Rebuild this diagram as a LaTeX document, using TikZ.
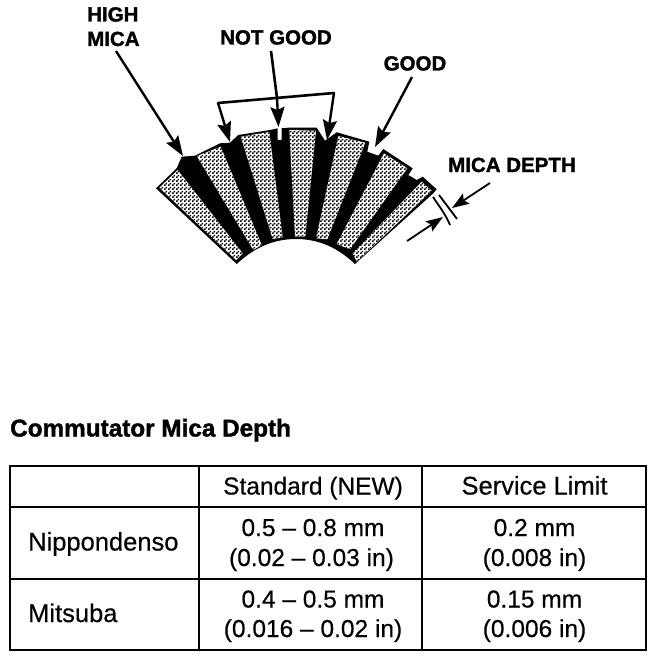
\documentclass[tikz,border=0pt]{standalone}
\usepackage{fontspec}
\setmainfont{Liberation Sans}
\newfontfamily\calloutfont{Liberation Sans Bold}[FakeBold=1.5]
\newfontfamily\cellfont{Liberation Sans}[FakeBold=0.4]
\usetikzlibrary{arrows.meta, patterns}
\pgfdeclarepatternformonly{dither}{\pgfqpoint{0pt}{0pt}}{\pgfqpoint{4pt}{4pt}}{\pgfqpoint{4pt}{4pt}}{
  \pgfpathrectangle{\pgfqpoint{0pt}{0pt}}{\pgfqpoint{2pt}{2pt}}
  \pgfpathrectangle{\pgfqpoint{2pt}{2pt}}{\pgfqpoint{2pt}{2pt}}
  \pgfusepath{fill}}
\tikzset{
  callout/.style={font=\calloutfont\fontsize{20.5}{24}\selectfont, inner sep=0pt, anchor=base},
  cell/.style={font=\cellfont\fontsize{24.5}{28}\selectfont, inner sep=0pt, anchor=base},
  bar/.style={pattern=dither, pattern color=black},
  pointer/.style={line width=2.4pt, -{Stealth[length=20pt,width=14pt,inset=3pt]}},
  smallpointer/.style={line width=1.8pt, -{Stealth[length=17pt,width=12pt,inset=3pt]}},
  tick/.style={line width=1.8pt},
  rule/.style={line width=2.2pt}
}
\begin{document}
\begin{tikzpicture}[x=1pt,y=-1pt]
\useasboundingbox (0,0) rectangle (672,658);

% Commutator body
\fill (236.7,264) -- (156,188.3) -- (176.7,168.3) -- (181.7,156.7) -- (195,155.7) -- (220,143.3)
  -- (230,142.7) -- (238.3,135) -- (270,130) -- (277.7,128.3) -- (277.7,140) -- (281.7,140)
  -- (281.7,128.3) -- (288.3,127.7) -- (316.7,127.7) -- (325,140.7) -- (336.7,132.3)
  -- (369.3,141.7) -- (367.3,151.7) -- (378.3,155.7) -- (383.3,149) -- (412.7,168.3)
  -- (408.3,175) -- (416.7,180) -- (422.7,176.7) -- (436.7,189.3) -- (433.3,193.3) -- (355,264)
  .. controls (335,245) and (315,239) .. (296,239)
  .. controls (277,239) and (257,245) .. (236.7,264) -- cycle;

% Segments
\fill[white] (159.3,187.7) -- (177.7,170) -- (242.7,253.3) -- (236,260) -- cycle;
\fill[white] (196.7,156) -- (220.7,146.7) -- (261.7,245) -- (253.3,250) -- cycle;
\fill[white] (240.7,136.7) -- (269.3,132) -- (282.7,237.3) -- (272.7,239) -- cycle;
\fill[white] (289.3,130) -- (316,130.7) -- (305.3,236.7) -- (295,236.7) -- cycle;
\fill[white] (338.3,136) -- (365.3,142.7) -- (327.3,239.3) -- (316,238.3) -- cycle;
\fill[white] (384,153.3) -- (407.3,168.3) -- (350,249.3) -- (336.7,244) -- cycle;
\fill[white] (421.7,181.7) -- (431.7,190.7) -- (356.7,261.7) -- (352.7,253.3) -- cycle;
\fill[bar] (159.3,187.7) -- (177.7,170) -- (242.7,253.3) -- (236,260) -- cycle;
\fill[bar] (196.7,156) -- (220.7,146.7) -- (261.7,245) -- (253.3,250) -- cycle;
\fill[bar] (240.7,136.7) -- (269.3,132) -- (282.7,237.3) -- (272.7,239) -- cycle;
\fill[bar] (289.3,130) -- (316,130.7) -- (305.3,236.7) -- (295,236.7) -- cycle;
\fill[bar] (338.3,136) -- (365.3,142.7) -- (327.3,239.3) -- (316,238.3) -- cycle;
\fill[bar] (384,153.3) -- (407.3,168.3) -- (350,249.3) -- (336.7,244) -- cycle;
\fill[bar] (421.7,181.7) -- (431.7,190.7) -- (356.7,261.7) -- (352.7,253.3) -- cycle;

% Callouts
\node[callout, anchor=base west] (high) at (87,21.5) {HIGH};
\node[callout, anchor=base west] (mica) at (87,46) {MICA};
\node[callout] (notgood) at (276,44.5) {NOT GOOD};
\node[callout] (good) at (415,70.5) {GOOD};
\node[callout] (micadepth) at (512,172) {MICA DEPTH};

\coordinate (hightip) at (183,156);
\coordinate (bracketl) at (218,103);
\coordinate (bracketr) at (334,93);
\coordinate (bracketm) at (277,98);
\coordinate (notl) at (230,142);
\coordinate (notm) at (278.5,127);
\coordinate (notr) at (327,140);
\coordinate (goodtip) at (375,147);
\coordinate (depthtop) at (452,208);
\coordinate (depthtail) at (490,183);
\coordinate (depthlow) at (443,217);
\coordinate (lowtail) at (407,241);

\draw[pointer] (116,51) -- (hightip);
\draw[line width=2.6pt] (271,51) -- (bracketm);
\draw[line width=2.6pt, line cap=round] (bracketl) -- (bracketr);
\draw[pointer] (bracketl) -- (notl);
\draw[pointer] (bracketm) -- (notm);
\draw[pointer] (bracketr) -- (notr);
\draw[pointer] (412,77) -- (goodtip);

% Depth marks
\draw[tick] (439,195) -- (457,219);
\draw[tick] (433,197) .. controls (439,206) and (446,215) .. (450,225);
\draw[smallpointer] (depthtail) -- (depthtop);
\draw[smallpointer] (lowtail) -- (depthlow);

% Table
\node[font=\calloutfont\fontsize{24.3}{28}\selectfont, inner sep=0pt, anchor=base west] (title) at (10,436.5) {Commutator Mica Depth};
\draw[rule] (10,466) rectangle (646,650);
\draw[rule] (199,466) -- (199,650);
\draw[line width=1.2pt] (422,466) -- (422,650);
\draw[rule] (10,507) -- (646,507);
\draw[line width=1.6pt] (10,579) -- (646,579);

\node[cell] (std) at (313,494.5) {Standard (NEW)};
\node[cell] (lim) at (534.5,494.5) {\fontsize{25.5}{28}\selectfont Service Limit};
\node[cell, anchor=base west] (nip) at (28,550.5) {\fontsize{25.5}{28}\selectfont Nippondenso};
\node[cell, anchor=base west] (mit) at (28,622) {\fontsize{25.5}{28}\selectfont Mitsuba};
\node[cell] (nipa) at (313,536) {0.5 – 0.8 mm};
\node[cell] (nipb) at (311.5,566) {(0.02 – 0.03 in)};
\node[cell] (nipc) at (534.5,536) {0.2 mm};
\node[cell] (nipd) at (534.5,566) {(0.008 in)};
\node[cell] (mita) at (313,607.5) {0.4 – 0.5 mm};
\node[cell] (mitb) at (313,637) {(0.016 – 0.02 in)};
\node[cell] (mitc) at (534.5,607.5) {0.15 mm};
\node[cell] (mitd) at (534.5,637) {(0.006 in)};
\end{tikzpicture}
\end{document}
